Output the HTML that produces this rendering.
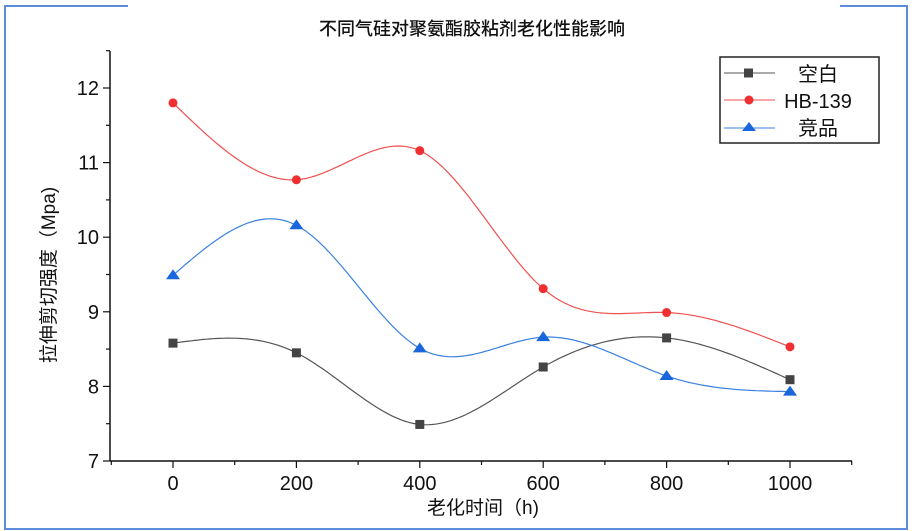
<!DOCTYPE html>
<html><head><meta charset="utf-8"><style>
html,body{margin:0;padding:0;background:#fff;}
svg{display:block;font-family:"Liberation Sans","Noto Sans CJK SC",sans-serif;}
</style></head><body>
<svg id="chart" width="916" height="531" viewBox="0 0 916 531">
<g stroke="#5b8bd9" stroke-width="2" fill="none">
<polyline points="128,6 5,6 5,529 907,529 907,6 840,6"/>
</g>
<text x="472" y="35" text-anchor="middle" font-size="18" font-weight="500" fill="#111" style="font-family:'Noto Sans CJK SC',sans-serif">不同气硅对聚氨酯胶粘剂老化性能影响</text>
<g id="axes"></g>
<g id="series"></g>
<text transform="translate(55,275) rotate(-90)" text-anchor="middle" font-size="19" fill="#111">拉伸剪切强度（Mpa)</text>
<text x="483" y="514" text-anchor="middle" font-size="19" fill="#111">老化时间（h)</text>
<g>
<rect x="720" y="57" width="159" height="86" fill="#fff" stroke="#222" stroke-width="1.5"/>
<g>
<line x1="724" y1="73" x2="775" y2="73" stroke="#555" stroke-width="1"/><rect x="744" y="68.5" width="9" height="9" fill="#444"/>
<text x="818" y="81" text-anchor="middle" font-size="20" fill="#111">空白</text></g>
<g>
<line x1="724" y1="100" x2="775" y2="100" stroke="#f05050" stroke-width="1"/><circle cx="749" cy="100" r="4.5" fill="#f03030"/>
<text x="818" y="108" text-anchor="middle" font-size="20" fill="#111">HB-139</text></g>
<g>
<line x1="724" y1="128" x2="775" y2="128" stroke="#3a80e0" stroke-width="1"/><polygon points="749,122 756,131 742,131" fill="#1a66dd"/>
<text x="818" y="135" text-anchor="middle" font-size="20" fill="#111">竞品</text></g>
</g>
</svg>
<script>
const xCats=[0,200,400,600,800,1000];
const blankVals=[8.58,8.45,7.49,8.26,8.65,8.09];
const hbVals=[11.8,10.77,11.16,9.31,8.99,8.53];
const compVals=[9.49,10.16,8.51,8.66,8.14,7.93];
const yTicks=[7,8,9,10,11,12];
const xTicks=[0,200,400,600,800,1000];
const NS="http://www.w3.org/2000/svg";
const X=v=>173+(v)*0.617;
const Y=v=>461-(v-7)*74.6;
function mk(t,a,p){const e=document.createElementNS(NS,t);for(const k in a)e.setAttribute(k,a[k]);p.appendChild(e);return e;}
const ax=document.getElementById('axes');
let l=mk('line',{x1:110,y1:51,x2:110,y2:461,stroke:'#111','stroke-width':1.5},ax);


l=mk('line',{x1:110,y1:461,x2:852,y2:461,stroke:'#111','stroke-width':1.5},ax);


for(let v=7;v<=12.5;v+=0.5){const y=Y(v);mk('line',{x1:v%1===0?103:106,y1:y,x2:110,y2:y,stroke:'#111','stroke-width':1.2},ax);}
yTicks.forEach(v=>{const t=mk('text',{x:99,y:Y(v)+7,'text-anchor':'end','font-size':20,fill:'#111'},ax);t.textContent=v;

});
for(let v=-100;v<=1100;v+=100){const x=X(v);mk('line',{x1:x,y1:461,x2:x,y2:v%200===0?468:465,stroke:'#111','stroke-width':1.2},ax);}
xTicks.forEach(v=>{const t=mk('text',{x:X(v),y:490,'text-anchor':'middle','font-size':20,fill:'#111'},ax);t.textContent=v;

});
function spline(xs,ys){const n=xs.length,h=[],al=[],l=[1],mu=[0],z=[0],c=new Array(n).fill(0),b=[],d=[];
for(let i=0;i<n-1;i++)h.push(xs[i+1]-xs[i]);
for(let i=1;i<n-1;i++)al[i]=3/h[i]*(ys[i+1]-ys[i])-3/h[i-1]*(ys[i]-ys[i-1]);
for(let i=1;i<n-1;i++){l[i]=2*(xs[i+1]-xs[i-1])-h[i-1]*mu[i-1];mu[i]=h[i]/l[i];z[i]=(al[i]-h[i-1]*z[i-1])/l[i];}
for(let j=n-2;j>=0;j--){c[j]=(j>0?z[j]-mu[j]*c[j+1]:0);if(j===0)c[0]=0;b[j]=(ys[j+1]-ys[j])/h[j]-h[j]*(c[j+1]+2*c[j])/3;d[j]=(c[j+1]-c[j])/(3*h[j]);}
let pts=[];for(let j=0;j<n-1;j++)for(let s=0;s<=40;s++){const dx=h[j]*s/40;const v=ys[j]+b[j]*dx+c[j]*dx*dx+d[j]*dx*dx*dx;pts.push(X(xs[j]+dx).toFixed(1)+','+Y(v).toFixed(1));}
return pts.join(' ');}
const sg=document.getElementById('series');
const defs=[['blank',blankVals,'#555','sq'],['hb139',hbVals,'#f05050','ci'],['competitor',compVals,'#3a80e0','tr']];
defs.forEach(([nm,vals,col,m])=>{const g=mk('g',{},sg);


mk('polyline',{points:spline(xCats,vals),fill:'none',stroke:col,'stroke-width':1.2},g);
xCats.forEach((x,i)=>{const cx=X(x),cy=Y(vals[i]);let e;
if(m==='sq')e=mk('rect',{x:cx-4.5,y:cy-4.5,width:9,height:9,fill:'#444'},g);
else if(m==='ci')e=mk('circle',{cx:cx,cy:cy,r:4.5,fill:'#f03030'},g);
else e=mk('polygon',{points:`${cx},${cy-6} ${cx+7},${cy+4} ${cx-7},${cy+4}`,fill:'#1a66dd'},g);

});});
</script>
</body></html>
